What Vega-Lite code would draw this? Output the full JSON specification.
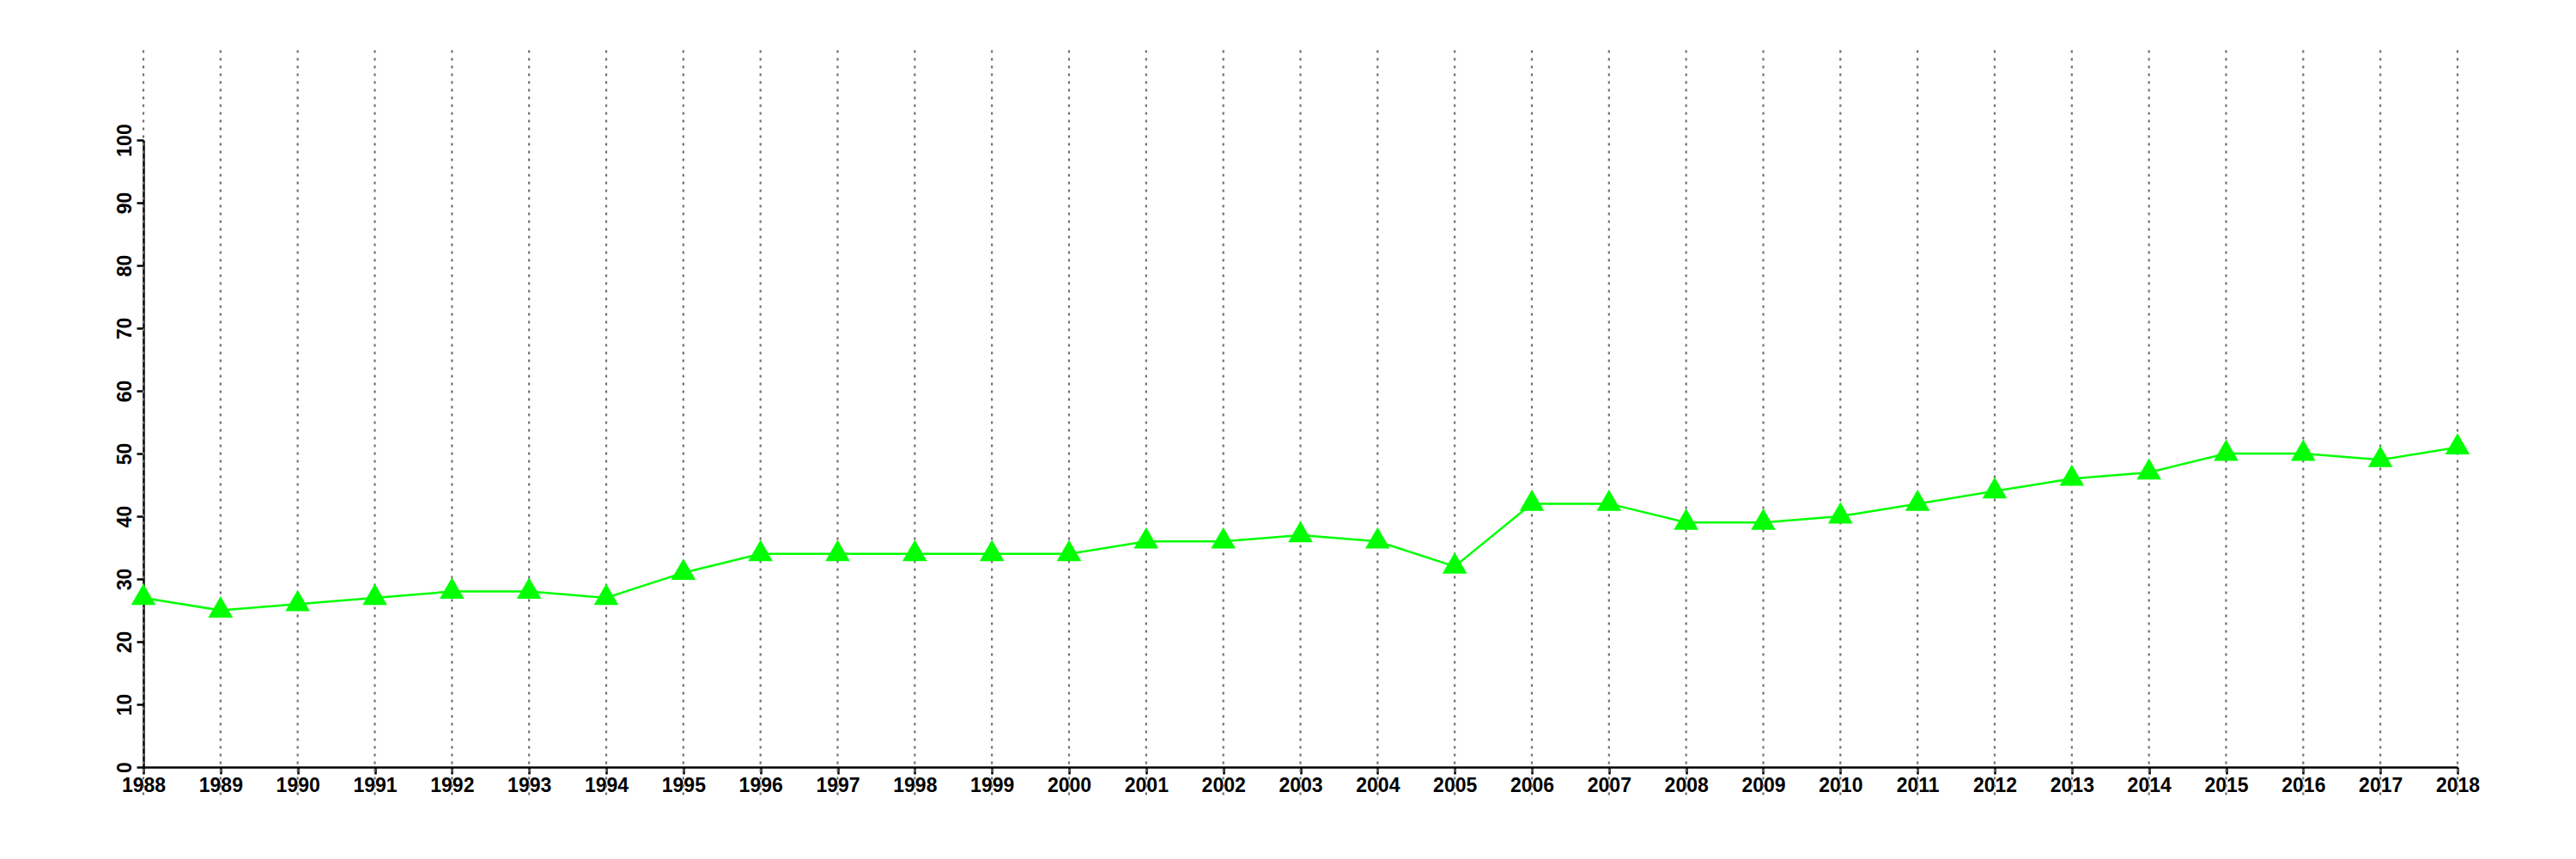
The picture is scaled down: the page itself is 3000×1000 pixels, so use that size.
{
  "$schema": "https://vega.github.io/schema/vega-lite/v6.json",
  "autosize": "none",
  "width": 2695,
  "height": 730,
  "padding": {"left": 167, "top": 163, "right": 138, "bottom": 107},
  "background": "white",
  "config": {
    "view": {"stroke": null},
    "axis": {
      "grid": false,
      "domainColor": "black",
      "domainWidth": 2.5,
      "tickColor": "black",
      "tickWidth": 2.5,
      "tickSize": 8,
      "labelFont": "Liberation Sans",
      "labelFontWeight": "bold",
      "labelFontSize": 23,
      "labelColor": "black",
      "title": null
    }
  },
  "data": {
    "values": [
      {"year": 1988, "value": 27},
      {"year": 1989, "value": 25},
      {"year": 1990, "value": 26},
      {"year": 1991, "value": 27},
      {"year": 1992, "value": 28},
      {"year": 1993, "value": 28},
      {"year": 1994, "value": 27},
      {"year": 1995, "value": 31},
      {"year": 1996, "value": 34},
      {"year": 1997, "value": 34},
      {"year": 1998, "value": 34},
      {"year": 1999, "value": 34},
      {"year": 2000, "value": 34},
      {"year": 2001, "value": 36},
      {"year": 2002, "value": 36},
      {"year": 2003, "value": 37},
      {"year": 2004, "value": 36},
      {"year": 2005, "value": 32},
      {"year": 2006, "value": 42},
      {"year": 2007, "value": 42},
      {"year": 2008, "value": 39},
      {"year": 2009, "value": 39},
      {"year": 2010, "value": 40},
      {"year": 2011, "value": 42},
      {"year": 2012, "value": 44},
      {"year": 2013, "value": 46},
      {"year": 2014, "value": 47},
      {"year": 2015, "value": 50},
      {"year": 2016, "value": 50},
      {"year": 2017, "value": 49},
      {"year": 2018, "value": 51}
    ]
  },
  "layer": [
    {
      "mark": {"type": "rule", "color": "#707070", "strokeWidth": 2.2, "strokeDash": [3, 6], "clip": false},
      "encoding": {
        "x": {"field": "year", "type": "quantitative"},
        "y": {"datum": 114.3},
        "y2": {"datum": -4.6}
      }
    },
    {
      "mark": {"type": "line", "color": "#00ff00", "strokeWidth": 2.5},
      "encoding": {
        "x": {
          "field": "year", "type": "quantitative",
          "scale": {"domain": [1988, 2018], "nice": false, "zero": false},
          "axis": {"values": [1988,1989,1990,1991,1992,1993,1994,1995,1996,1997,1998,1999,2000,2001,2002,2003,2004,2005,2006,2007,2008,2009,2010,2011,2012,2013,2014,2015,2016,2017,2018], "format": "d", "labelBaseline": "top", "labelPadding": 2, "labelFlush": false, "labelOverlap": false}
        },
        "y": {
          "field": "value", "type": "quantitative",
          "scale": {"domain": [0, 100], "nice": false},
          "axis": {"values": [0,10,20,30,40,50,60,70,80,90,100], "labelAngle": -90, "labelAlign": "center", "labelBaseline": "alphabetic", "labelPadding": 7, "labelFlush": false, "labelOverlap": false}
        }
      }
    },
    {
      "mark": {"type": "point", "shape": "triangle-up", "filled": true, "color": "#00ff00", "opacity": 1, "size": 820, "yOffset": -4},
      "encoding": {
        "x": {"field": "year", "type": "quantitative"},
        "y": {"field": "value", "type": "quantitative"}
      }
    }
  ]
}
